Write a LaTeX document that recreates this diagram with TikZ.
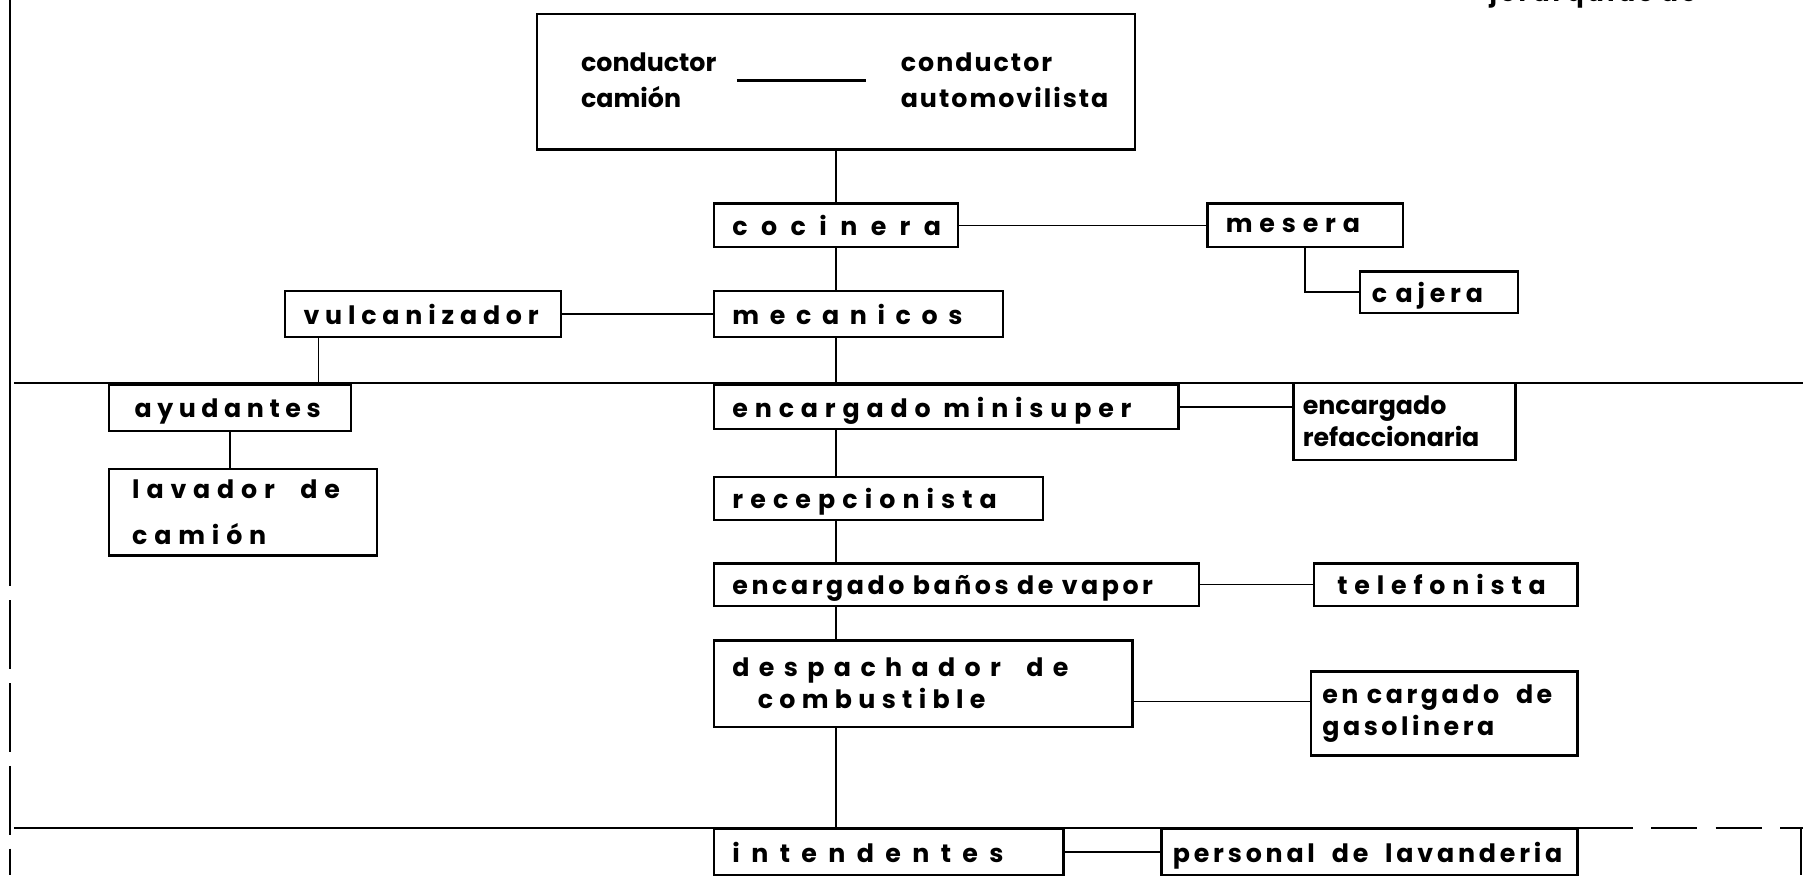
\documentclass[tikz,border=0pt]{standalone}
\usepackage{fontspec}
\setmainfont{Poppins}
\usetikzlibrary{calc}

\begin{document}
\begin{tikzpicture}[x=0.5pt, y=-0.5pt,
		box/.style={draw, line width=1pt, inner xsep=8pt, inner ysep=0pt, align=left},
		single/.style={box, text depth=0pt},
		sp/.style={font=\fontsize{11}{14}\selectfont\bfseries\addfontfeature{LetterSpace=#1}},
		link/.style={line width=0.6pt},
		rule/.style={line width=0.8pt}]
				\useasboundingbox (0,0) rectangle (1568,761);
				
				% Level rules
				\draw[rule] (9,0) -- (9,450);
				\draw[rule, dash pattern=on 30pt off 6pt] (9,450) -- (9,761);
				\draw[rule] (12,333) -- (1568,333);
				\draw[rule] (12,720) -- (1380,720);
				\draw[rule, dash pattern=on 20pt off 8pt] (1380,720) -- (1568,720);
				\draw[rule] (1566,720) -- (1566,761);
				\node[sp=12, anchor=base west, inner sep=0pt] (jerarquias) at (1295,1) {jerarquías de};
				
				% Top box
				\node[box, minimum width=260pt, minimum height=59pt] (conductores) at (727,71) {};
				\node[sp=0, anchor=west, inner sep=0pt, text width=67.5pt, align=left] (camion) at (505,70) {conductor\\[1.5pt]camión};
				\node[sp=8, anchor=west, inner sep=0pt, align=left] (automovil) at (783,70) {conductor\\[1.5pt]automovilista};
				\draw[line width=1pt, shorten >=15pt] (camion.east) -- (automovil.west);
				
				% Boxes
				\node[single, sp=53, text width=90pt, minimum height=19pt] (cocinera) at (727,196) {cocinera};
				\node[single, sp=27, text width=69pt, minimum height=19pt] (mesera) at (1135,196) {mesera};
				\node[single, sp=19, inner xsep=5pt, text width=58.5pt, minimum height=18pt] (cajera) at (1251.5,254) {c\ ajera};
				\node[single, sp=42, text width=109.5pt, minimum height=20pt] (mecanicos) at (746.5,273) {mecanicos};
				\node[single, sp=23, text width=104pt, minimum height=20pt] (vulcanizador) at (368,273) {vulcanizador};
				\node[single, sp=22, inner xsep=11pt, text width=83pt, minimum height=20pt] (ayudantes) at (200,355) {ayudantes};
				\node[single, sp=27, text width=186pt, minimum height=19pt] (minisuper) at (823,354) {encargado\enspace minisuper};
				\node[box, sp=0, inner xsep=4pt, text width=88.5pt, minimum height=33.5pt] (refaccionaria) at (1221.5,366.5) {encargado\\refaccionaria};
				\node[box, sp=27, inner xsep=10pt, text width=96.5pt, minimum height=37.5pt] (lavador) at (211.5,445.5) {lavador\quad de\\[6pt]camión};
				\node[single, sp=28, text width=127pt, minimum height=18.5pt] (recepcionista) at (764,433.5) {recepcionista};
				\node[single, sp=14, text width=195pt, minimum height=18.5pt] (banos) at (832,508.5) {encargado baños de vapor};
				\node[single, sp=27, inner xsep=10pt, text width=94.5pt, minimum height=18.5pt] (telefonista) at (1257.5,508.5) {telefonista};
				\node[box, sp=37, text width=166pt, minimum height=37.5pt] (despachador) at (803,594.5) {despachador\quad de\\\hspace*{11pt}{\addfontfeature{LetterSpace=25}combustible}};
				\node[box, sp=14, inner xsep=5pt, text width=106pt, minimum height=36.5pt] (gasolinera) at (1256,620.5) {en cargado\ \ de\\gasolinera};
				\node[single, sp=45, text width=136pt, minimum height=20pt] (intendentes) at (773,741) {intendentes};
				\node[single, sp=15, inner xsep=5pt, text width=171pt, minimum height=20pt] (lavanderia) at (1191,741) {personal\ \ de\ \ lavanderia};
				
				% Connectors
				\draw[link] (conductores.south) -- (cocinera.north);
				\draw[link] (cocinera.east) -- (mesera.west);
				\draw[link] (mesera.south) |- (cajera.west);
				\draw[link] (cocinera.south) -- (cocinera.south |- mecanicos.north);
				\draw[link] (vulcanizador.east) -- (mecanicos.west);
				\coordinate (v) at ($(vulcanizador.south west)!.125!(vulcanizador.south east)$);
				\draw[link] (v) -- (v |- ayudantes.north);
				\draw[link] (ayudantes.south) -- (ayudantes.south |- lavador.north);
				\draw[link] (minisuper.east) -- (minisuper.east -| refaccionaria.west);
				\draw[link] (banos.east) -- (telefonista.west);
				\coordinate (d) at ($(despachador.north east)!.7!(despachador.south east)$);
				\draw[link] (d) -- (d -| gasolinera.west);
				\draw[link] (intendentes.east) -- (lavanderia.west);
				\foreach \a/\b in {mecanicos/minisuper, minisuper/recepcionista, recepcionista/banos, banos/despachador, despachador/intendentes}
					\draw[link] (cocinera.south |- \a.south) -- (cocinera.south |- \b.north);
			\end{tikzpicture}
\end{document}
